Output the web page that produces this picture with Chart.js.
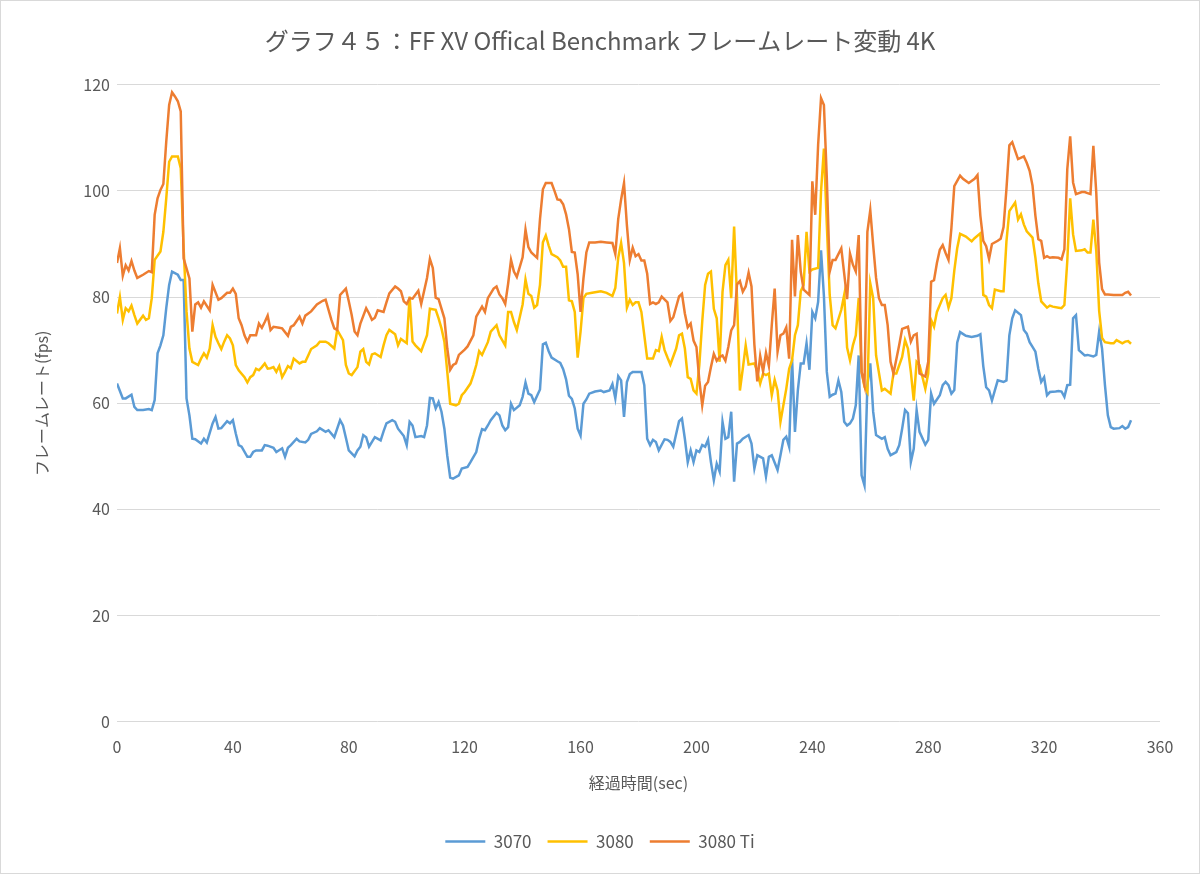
<!DOCTYPE html>
<html lang="ja">
<head>
<meta charset="utf-8">
<title>FF XV フレームレート変動 4K</title>
<script src="https://cdn.jsdelivr.net/npm/chart.js@4.4.0/dist/chart.umd.min.js"></script>
<style>
  html, body { margin: 0; padding: 0; background: #fff; }
  #wrap {
    position: absolute; left: 0; top: 0;
    width: 1200px; height: 874px;
    box-sizing: border-box;
    border: 1px solid #d9d9d9;
    background: #fff;
  }
</style>
</head>
<body>
<div id="wrap"><canvas id="fpsChart"></canvas></div>
<script>
// elapsed seconds / fps, one pair of arrays per card
const sec3070 = [
  0, 2, 3, 5, 6, 7, 9, 11, 12, 13,
  14, 15, 16, 17, 18, 19, 21, 22, 23, 24,
  25, 26, 27, 29, 30, 31, 33, 34, 35, 36,
  38, 39, 40, 41, 42, 43, 45, 46, 47, 48,
  50, 51, 52, 54, 55, 57, 58, 59, 60, 62,
  63, 65, 66, 67, 69, 70, 72, 73, 75, 77,
  78, 79, 80, 82, 83, 84, 85, 86, 87, 88,
  89, 91, 92, 93, 95, 96, 97, 99, 100, 101,
  102, 103, 105, 106, 107, 108, 109, 110, 111, 112,
  113, 114, 115, 116, 118, 119, 121, 122, 124, 125,
  126, 127, 128, 129, 131, 132, 133, 134, 135, 136,
  137, 139, 140, 141, 142, 143, 144, 145, 146, 147,
  148, 149, 150, 152, 153, 154, 155, 156, 157, 158,
  159, 160, 161, 162, 163, 165, 167, 168, 170, 171,
  172, 173, 174, 175, 176, 177, 178, 180, 181, 182,
  183, 184, 185, 186, 187, 189, 190, 191, 192, 194,
  195, 196, 197, 198, 199, 200, 201, 202, 203, 204,
  205, 206, 207, 208, 209, 210, 211, 212, 213, 214,
  215, 216, 218, 219, 220, 221, 223, 224, 225, 226,
  228, 229, 230, 231, 232, 233, 234, 235, 236, 237,
  238, 239, 240, 241, 242, 243, 244, 245, 246, 247,
  248, 249, 250, 251, 252, 253, 254, 255, 256, 257,
  258, 259, 260, 261, 262, 264, 265, 266, 267, 269,
  270, 271, 272, 273, 274, 275, 276, 277, 279, 280,
  281, 282, 284, 285, 286, 287, 288, 289, 290, 291,
  293, 295, 297, 298, 299, 300, 301, 302, 303, 304,
  306, 307, 308, 309, 310, 312, 313, 314, 315, 316,
  317, 318, 319, 320, 321, 322, 324, 325, 326, 327,
  328, 329, 330, 331, 332, 334, 335, 337, 338, 339,
  340, 341, 342, 343, 344, 346, 347, 348, 349, 350
];
const fps3070 = [
  63.7, 60.9, 60.9, 61.6, 59.3, 58.7, 58.7, 58.9, 58.7, 60.6,
  69.4, 70.9, 72.8, 77.9, 82.3, 84.8, 84.2, 83.2, 83.2, 60.9,
  57.7, 53.3, 53.2, 52.4, 53.3, 52.6, 56.2, 57.4, 55.2, 55.3,
  56.6, 56.2, 56.8, 54.3, 52.1, 51.8, 49.9, 49.9, 50.8, 51.1,
  51.1, 52.1, 52.0, 51.6, 50.8, 51.5, 49.9, 51.6, 52.1, 53.3,
  52.8, 52.6, 53.1, 54.2, 54.7, 55.3, 54.6, 54.9, 53.6, 56.8,
  55.8, 53.5, 51.1, 50.0, 51.1, 51.8, 54.0, 53.6, 51.8, 52.7,
  53.6, 53.0, 54.7, 56.2, 56.8, 56.5, 55.2, 53.8, 52.1, 56.5,
  55.8, 53.6, 53.8, 53.6, 55.8, 61.0, 60.9, 59.0, 60.2, 58.4,
  55.2, 50.1, 46.0, 45.8, 46.4, 47.7, 48.0, 48.9, 50.8, 53.3,
  55.1, 54.9, 55.8, 56.8, 58.2, 57.7, 55.8, 54.9, 55.5, 59.9,
  58.7, 59.6, 61.2, 63.9, 61.8, 61.5, 60.2, 61.4, 62.6, 71.1,
  71.4, 69.8, 68.6, 67.9, 67.6, 66.4, 64.5, 61.4, 60.8, 59.0,
  55.2, 53.9, 59.9, 60.7, 61.8, 62.2, 62.4, 62.1, 62.4, 63.6,
  60.9, 65.1, 64.3, 57.4, 64.0, 65.5, 65.9, 65.9, 65.9, 63.4,
  53.3, 52.1, 53.1, 52.7, 51.1, 53.2, 53.1, 52.7, 51.8, 56.6,
  57.1, 53.3, 48.9, 51.1, 48.9, 51.1, 50.8, 52.1, 51.8, 53.1,
  48.9, 45.5, 48.6, 47.1, 56.5, 53.3, 53.6, 58.4, 45.2, 52.4,
  52.7, 53.3, 54.0, 52.4, 47.7, 50.2, 49.6, 46.2, 49.9, 50.2,
  47.4, 50.2, 53.1, 53.7, 51.8, 68.4, 54.6, 62.4, 67.5, 67.5,
  71.3, 66.3, 77.2, 76.0, 79.1, 88.8, 80.2, 65.9, 61.2, 61.6,
  61.8, 64.3, 62.1, 56.5, 55.8, 56.2, 57.1, 59.6, 69.0, 46.4,
  44.5, 63.4, 67.5, 58.4, 54.0, 53.3, 53.6, 51.4, 50.2, 50.8,
  52.1, 55.2, 58.7, 58.1, 48.9, 51.4, 58.7, 54.6, 52.2, 53.1,
  61.8, 59.9, 61.5, 63.4, 64.0, 63.4, 61.8, 62.5, 71.4, 73.4,
  72.7, 72.5, 72.7, 73.0, 67.0, 63.0, 62.4, 60.5, 62.4, 64.3,
  64.0, 64.3, 72.8, 76.0, 77.5, 76.6, 73.8, 73.1, 71.5, 70.6,
  69.7, 66.5, 64.0, 64.9, 61.5, 62.1, 62.2, 62.3, 62.2, 61.2,
  63.4, 63.5, 76.0, 76.6, 70.0, 69.0, 69.1, 68.8, 69.1, 73.5,
  70.3, 63.4, 57.7, 55.5, 55.2, 55.3, 55.7, 55.2, 55.5, 56.8
];

const sec3080 = [
  0, 1, 2, 3, 4, 5, 6, 7, 9, 10,
  11, 12, 13, 15, 16, 17, 18, 19, 21, 22,
  23, 24, 25, 26, 28, 29, 30, 31, 32, 33,
  34, 35, 36, 37, 38, 39, 40, 41, 42, 44,
  45, 46, 47, 48, 49, 50, 51, 52, 53, 54,
  55, 56, 57, 58, 59, 60, 61, 63, 64, 65,
  66, 67, 69, 70, 72, 73, 75, 76, 78, 79,
  80, 81, 83, 84, 85, 86, 87, 88, 89, 91,
  92, 93, 94, 96, 97, 98, 100, 101, 102, 103,
  105, 107, 108, 110, 111, 112, 113, 114, 115, 117,
  118, 119, 120, 122, 123, 124, 125, 126, 128, 129,
  131, 132, 134, 135, 136, 137, 138, 140, 141, 142,
  143, 144, 145, 146, 147, 148, 149, 150, 152, 153,
  154, 155, 156, 157, 158, 159, 160, 161, 162, 164,
  166, 167, 169, 171, 172, 173, 174, 175, 176, 177,
  178, 179, 180, 181, 182, 183, 184, 185, 186, 187,
  188, 189, 190, 191, 193, 194, 195, 196, 197, 198,
  199, 200, 201, 202, 203, 204, 205, 206, 207, 208,
  209, 210, 211, 212, 213, 214, 215, 216, 217, 218,
  220, 221, 222, 223, 224, 225, 226, 227, 228, 229,
  231, 232, 233, 234, 235, 236, 237, 238, 239, 240,
  242, 243, 244, 245, 246, 247, 248, 250, 251, 252,
  253, 254, 255, 256, 257, 258, 259, 260, 261, 262,
  264, 265, 267, 268, 269, 271, 272, 273, 274, 275,
  276, 277, 279, 280, 281, 282, 283, 285, 286, 287,
  288, 289, 290, 291, 293, 295, 296, 298, 299, 300,
  301, 302, 303, 305, 306, 307, 308, 310, 311, 312,
  313, 314, 316, 317, 318, 319, 321, 322, 323, 325,
  326, 327, 328, 329, 330, 331, 333, 334, 335, 336,
  337, 338, 339, 340, 341, 343, 344, 345, 347, 348,
  349, 350
];
const fps3080 = [
  76.9, 80.0, 75.7, 77.9, 77.3, 78.4, 76.6, 75.0, 76.5, 75.7,
  76.0, 79.8, 87.0, 88.6, 92.3, 98.6, 105.5, 106.5, 106.5, 104.3,
  89.2, 77.3, 70.3, 67.8, 67.2, 68.4, 69.4, 68.6, 70.3, 74.7,
  72.5, 71.3, 70.2, 71.6, 72.8, 72.2, 70.9, 67.2, 66.2, 64.9,
  63.9, 64.9, 65.3, 66.5, 66.2, 66.8, 67.5, 66.5, 66.6, 66.8,
  65.9, 67.0, 64.9, 65.9, 67.0, 66.6, 68.4, 67.5, 67.8, 67.8,
  69.0, 70.2, 70.9, 71.6, 71.6, 71.3, 70.3, 73.8, 71.9, 67.2,
  65.6, 65.3, 66.8, 69.7, 70.2, 67.8, 67.3, 69.2, 69.4, 68.7,
  70.9, 72.8, 73.8, 73.0, 70.9, 72.1, 71.3, 80.1, 71.6, 70.9,
  69.8, 72.8, 77.8, 77.6, 76.0, 74.1, 71.6, 65.9, 59.9, 59.6,
  59.9, 61.5, 62.1, 63.7, 65.3, 67.2, 69.8, 69.1, 71.5, 73.5,
  74.7, 72.8, 70.9, 77.2, 77.2, 75.3, 73.8, 78.6, 83.3, 80.6,
  80.2, 78.0, 78.5, 82.3, 90.3, 91.6, 89.7, 88.1, 87.5, 86.9,
  85.7, 85.7, 79.4, 79.2, 77.2, 68.6, 73.5, 79.8, 80.6, 80.8,
  81.0, 81.1, 80.8, 80.2, 81.7, 87.4, 90.2, 86.4, 78.0, 79.5,
  78.5, 79.0, 79.0, 77.2, 72.8, 68.4, 68.4, 68.4, 70.0, 69.8,
  72.5, 70.0, 68.6, 67.3, 70.3, 72.8, 73.1, 70.3, 64.9, 64.6,
  62.4, 61.8, 67.2, 75.4, 82.3, 84.4, 84.8, 77.8, 76.0, 67.8,
  81.0, 86.0, 87.0, 79.8, 93.3, 80.0, 62.4, 66.5, 70.9, 67.3,
  67.5, 65.9, 63.7, 65.6, 65.3, 65.6, 61.5, 64.4, 62.4, 56.5,
  62.7, 66.5, 68.1, 72.8, 74.7, 81.1, 82.3, 92.3, 84.8, 85.2,
  85.5, 99.9, 108.0, 93.6, 80.4, 74.7, 74.1, 77.6, 80.4, 70.5,
  68.1, 70.9, 72.8, 79.8, 65.9, 63.1, 62.1, 82.6, 79.8, 69.0,
  62.4, 62.7, 61.8, 65.6, 65.6, 68.7, 71.9, 70.3, 65.9, 60.5,
  67.8, 67.2, 62.7, 65.6, 75.7, 74.4, 77.2, 79.8, 80.4, 78.0,
  79.8, 85.0, 89.2, 91.9, 91.4, 90.5, 91.1, 92.0, 80.4, 80.1,
  78.5, 77.9, 81.4, 81.1, 81.1, 90.5, 96.2, 97.8, 94.6, 95.6,
  93.7, 92.4, 91.2, 87.4, 82.6, 79.2, 78.0, 78.4, 78.2, 78.0,
  77.9, 78.5, 86.8, 98.6, 91.8, 88.7, 88.8, 89.0, 88.4, 88.4,
  94.6, 88.7, 77.4, 72.3, 71.5, 71.3, 71.3, 71.9, 71.3, 71.6,
  71.7, 71.2
];

const sec3080Ti = [
  0, 1, 2, 3, 4, 5, 6, 7, 9, 11,
  12, 13, 14, 15, 16, 17, 18, 19, 20, 21,
  22, 23, 25, 26, 27, 28, 29, 30, 32, 33,
  35, 36, 38, 39, 40, 41, 42, 43, 44, 45,
  46, 48, 49, 50, 51, 52, 53, 54, 56, 57,
  59, 60, 61, 63, 64, 65, 67, 69, 71, 72,
  74, 75, 76, 77, 79, 80, 81, 82, 83, 84,
  86, 87, 88, 89, 90, 92, 93, 94, 96, 97,
  98, 99, 100, 101, 102, 104, 105, 107, 108, 109,
  110, 111, 113, 114, 115, 116, 117, 118, 120, 121,
  123, 124, 126, 127, 128, 130, 131, 132, 133, 134,
  135, 136, 137, 138, 140, 141, 142, 143, 145, 146,
  147, 148, 150, 151, 152, 153, 154, 155, 156, 157,
  158, 159, 160, 161, 162, 163, 165, 167, 169, 171,
  172, 173, 174, 175, 176, 177, 178, 179, 180, 181,
  182, 183, 184, 185, 186, 187, 188, 190, 191, 192,
  194, 195, 196, 197, 198, 199, 200, 201, 202, 203,
  204, 205, 206, 207, 208, 209, 210, 211, 212, 213,
  214, 215, 216, 217, 218, 219, 220, 221, 222, 223,
  224, 225, 226, 227, 228, 229, 230, 231, 232, 233,
  234, 235, 236, 237, 239, 240, 241, 242, 243, 244,
  245, 246, 247, 248, 250, 251, 252, 253, 254, 255,
  256, 257, 258, 259, 260, 261, 262, 263, 264, 265,
  266, 267, 268, 270, 271, 273, 274, 275, 276, 277,
  279, 280, 281, 282, 283, 284, 285, 286, 287, 288,
  289, 291, 292, 294, 296, 297, 298, 299, 300, 301,
  302, 304, 305, 306, 307, 308, 309, 310, 311, 313,
  314, 315, 316, 317, 318, 319, 320, 321, 322, 323,
  325, 326, 327, 328, 329, 330, 331, 333, 334, 335,
  336, 337, 338, 339, 340, 341, 342, 344, 346, 347,
  348, 349, 350
];
const fps3080Ti = [
  86.4, 89.2, 84.0, 86.0, 85.0, 86.8, 85.0, 83.6, 84.2, 84.9,
  84.7, 95.5, 98.6, 100.2, 101.3, 109.3, 116.2, 118.6, 117.8, 116.9,
  115.0, 87.3, 83.5, 73.5, 78.6, 79.0, 78.0, 79.2, 77.5, 82.3,
  79.5, 79.8, 80.8, 80.8, 81.6, 80.6, 76.0, 74.7, 72.8, 71.6,
  72.8, 72.8, 75.0, 74.2, 75.3, 76.5, 73.8, 74.4, 74.2, 74.1,
  72.7, 74.4, 74.7, 76.3, 75.0, 76.5, 77.3, 78.6, 79.3, 79.5,
  75.7, 74.1, 73.8, 80.4, 81.6, 79.2, 76.6, 73.5, 72.8, 75.0,
  77.9, 76.9, 75.7, 76.1, 77.5, 77.2, 79.0, 80.7, 82.0, 81.6,
  81.1, 79.2, 78.7, 79.8, 79.7, 81.2, 78.7, 83.6, 87.2, 85.5,
  79.9, 79.6, 76.0, 70.3, 66.3, 67.2, 67.5, 69.1, 70.1, 70.7,
  72.8, 76.3, 78.2, 77.2, 79.8, 81.6, 82.0, 80.5, 79.8, 78.7,
  82.5, 87.0, 84.8, 83.8, 87.5, 92.7, 89.4, 88.4, 87.4, 94.7,
  100.3, 101.5, 101.5, 100.0, 98.4, 98.3, 97.5, 95.6, 92.8, 88.5,
  88.4, 84.3, 77.2, 83.5, 88.4, 90.3, 90.3, 90.4, 90.3, 90.2,
  88.1, 94.7, 98.4, 101.5, 93.5, 87.0, 89.3, 87.7, 88.1, 86.9,
  86.9, 84.4, 78.7, 79.0, 78.7, 79.0, 80.1, 79.0, 75.5, 76.2,
  80.1, 80.6, 76.9, 74.3, 75.0, 71.8, 70.6, 64.3, 59.6, 63.3,
  64.0, 66.8, 69.3, 68.0, 68.7, 69.0, 68.0, 70.6, 73.7, 74.7,
  82.4, 83.0, 81.0, 82.0, 84.6, 82.0, 71.0, 64.1, 68.9, 66.0,
  69.5, 67.0, 74.7, 81.6, 69.7, 72.8, 73.1, 74.3, 68.4, 90.8,
  80.1, 91.7, 84.8, 81.4, 80.4, 101.8, 95.5, 108.7, 117.5, 116.2,
  102.4, 84.8, 87.0, 87.0, 89.2, 84.4, 79.6, 88.2, 86.1, 84.8,
  91.7, 65.9, 63.4, 92.3, 96.4, 89.8, 83.6, 79.8, 78.5, 78.5,
  74.7, 67.8, 65.6, 71.0, 74.0, 74.4, 71.6, 72.8, 73.1, 65.6,
  65.0, 67.8, 82.9, 83.2, 86.4, 88.9, 89.8, 88.3, 87.0, 93.0,
  100.9, 102.9, 102.3, 101.5, 102.3, 103.0, 95.3, 90.6, 89.6, 87.2,
  90.0, 90.6, 91.0, 93.2, 100.4, 108.6, 109.2, 107.6, 106.0, 106.5,
  105.3, 103.8, 101.0, 95.3, 90.9, 90.6, 87.4, 87.7, 87.4, 87.5,
  87.4, 87.1, 89.0, 104.1, 110.3, 101.6, 99.4, 99.8, 99.8, 99.6,
  99.4, 108.5, 99.7, 86.5, 81.5, 80.5, 80.5, 80.4, 80.4, 80.4,
  80.8, 81.0, 80.3
];

const cardNames = ['3070', '3080', '3080 Ti'];
const cardColors = ['#5B9BD5', '#FFC000', '#ED7D31'];
const chartTitle = 'グラフ４５：FF XV Offical Benchmark フレームレート変動 4K';
const xTitle = '経過時間(sec)';
const yTitle = 'フレームレート(fps)';

const GREY = '#595959';
Chart.defaults.font.family = '"Noto Sans CJK JP", "Noto Sans", sans-serif';
Chart.defaults.color = GREY;

function toPoints(secs, fps) {
    return secs.map((s, i) => ({ x: s, y: fps[i] }));
}

const series = [
    toPoints(sec3070, fps3070),
    toPoints(sec3080, fps3080),
    toPoints(sec3080Ti, fps3080Ti)
];

const ctx = document.getElementById('fpsChart').getContext('2d');
new Chart(ctx, {
    type: 'line',
    data: {
        datasets: series.map((pts, i) => ({
            label: cardNames[i],
            data: pts,
            borderColor: cardColors[i],
            backgroundColor: cardColors[i],
            borderWidth: 2.5,
            pointRadius: 0,
            tension: 0,
            order: 3 - i   // 3080 Ti drawn on top, like the original
        }))
    },
    options: {
        responsive: true,
        maintainAspectRatio: false,
        animation: false,
        layout: {
            padding: { left: 0, right: 0, top: 0, bottom: 13 }
        },
        plugins: {
            title: {
                display: true,
                text: chartTitle,
                color: GREY,
                font: { size: 24, weight: 'normal' },
                padding: { top: 25, bottom: 30 }
            },
            legend: {
                position: 'bottom',
                labels: {
                    usePointStyle: true,
                    pointStyle: 'line',
                    pointStyleWidth: 40,
                    boxHeight: 17,
                    padding: 16,
                    color: GREY,
                    font: { size: 17 },
                    sort: (a, b) => a.datasetIndex - b.datasetIndex
                }
            },
            tooltip: { enabled: false }
        },
        scales: {
            x: {
                type: 'linear',
                min: 0,
                max: 360,
                ticks: { stepSize: 40, padding: 16, color: GREY, font: { size: 16 } },
                grid: { display: false, drawTicks: false },
                border: { display: false },
                title: {
                    display: true,
                    text: xTitle,
                    color: GREY,
                    font: { size: 16 },
                    padding: { top: 1, bottom: 24 }
                }
            },
            y: {
                min: 0,
                max: 120,
                ticks: { stepSize: 20, padding: 7, color: GREY, font: { size: 16 } },
                grid: { color: '#d9d9d9', lineWidth: 1, drawTicks: false },
                border: { display: false },
                title: {
                    display: true,
                    text: yTitle,
                    color: GREY,
                    font: { size: 16 },
                    padding: { top: 31, bottom: 0 }
                },
                afterFit: scale => { scale.width = 116; }
            },
            // empty right-hand strip so title and legend stay centred on the canvas
            gutter: {
                position: 'right',
                min: 0,
                max: 120,
                ticks: { display: false },
                grid: { display: false, drawTicks: false },
                border: { display: false },
                afterFit: scale => { scale.width = 39; }
            }
        }
    }
});
</script>
</body>
</html>
